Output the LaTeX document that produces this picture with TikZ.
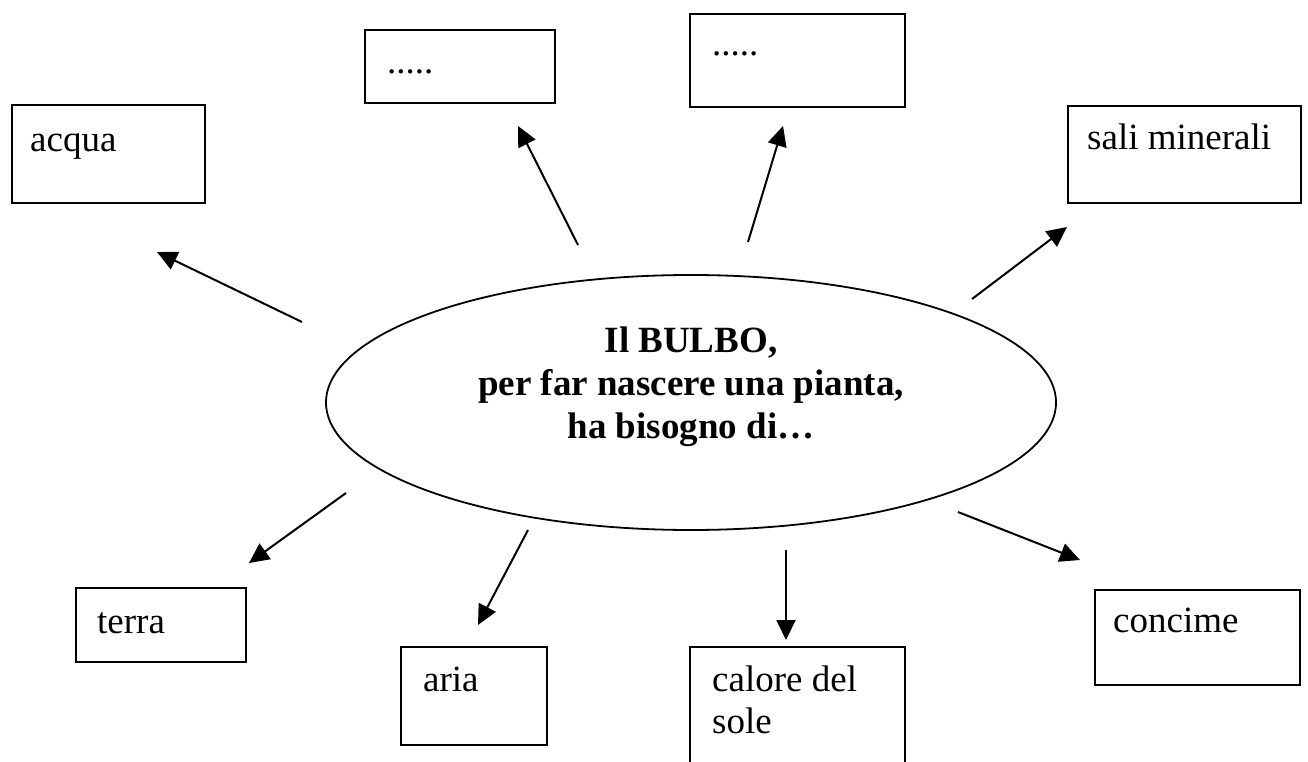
\documentclass[tikz,border=0pt]{standalone}
\usepackage{fontspec}
\setmainfont{Liberation Serif}
\usetikzlibrary{shapes.geometric,arrows.meta}
\tikzset{
  box/.style={draw=black, line width=2pt, rectangle, inner sep=0pt},
  lbl/.style={anchor=base west, inner sep=0pt, font=\fontsize{37}{43}\selectfont},
  arr/.style={draw=black, line width=2pt, -{Triangle[length=20pt,width=19pt]}},
  bulbo/.style={draw=black, line width=1.8pt, ellipse, inner sep=0pt}
}
\newcommand{\mybox}[5]{%
  \node[box, minimum width={#4-#2}, minimum height={#5-#3}] (#1) at ({(#2+#4)/2},{(#3+#5)/2}) {};}
\begin{document}
\begin{tikzpicture}[x=1pt,y=-1pt]
\useasboundingbox (0,0) rectangle (1308,762);
\fill[white] (0,0) rectangle (1308,762);
% central ellipse
\node[bulbo, minimum width=730pt, minimum height=255pt] (bulbo) at (691,402.5) {};
\node[inner sep=0pt, align=center, font=\bfseries\fontsize{37}{43}\selectfont] (bulbotxt) at (691,387)
  {Il BULBO,\\per far nascere una pianta,\\ha bisogno di…};
% boxes
\mybox{acqua}{12}{105}{205}{203}
\mybox{puntiA}{365}{30}{555}{103}
\mybox{puntiB}{690}{14}{905}{107}
\mybox{sali}{1068}{106}{1301}{203}
\mybox{terra}{76}{588}{246}{662}
\mybox{aria}{401}{647}{547}{745}
\mybox{calore}{690}{647}{905}{790}
\mybox{concime}{1095}{590}{1300}{685}
% labels
\node[lbl] (tacqua) at (30,152) {acqua};
\node[lbl] (tpuntiA) at (387,74) {.....};
\node[lbl] (tpuntiB) at (712,56) {.....};
\node[lbl] (tsali) at (1087,150) {sali minerali};
\node[lbl] (tterra) at (97,633) {terra};
\node[lbl] (taria) at (423,691) {aria};
\node[lbl] (tcalore) at (712,691) {calore del};
\node[lbl] (tsole) at (712,733) {sole};
\node[lbl] (tconcime) at (1113,632) {concime};
% connector end points
\coordinate (s1) at (302,322); \coordinate (e1) at (157,252);
\coordinate (s2) at (578,245); \coordinate (e2) at (518,126);
\coordinate (s3) at (748,242); \coordinate (e3) at (783,126);
\coordinate (s4) at (972,299); \coordinate (e4) at (1067,227);
\coordinate (s5) at (346,493); \coordinate (e5) at (249,563);
\coordinate (s6) at (528,530); \coordinate (e6) at (478,625);
\coordinate (s7) at (786,550); \coordinate (e7) at (786,640);
\coordinate (s8) at (958,512); \coordinate (e8) at (1080,560);
\draw[arr] (s1) -- (e1);
\draw[arr] (s2) -- (e2);
\draw[arr] (s3) -- (e3);
\draw[arr] (s4) -- (e4);
\draw[arr] (s5) -- (e5);
\draw[arr] (s6) -- (e6);
\draw[arr] (s7) -- (e7);
\draw[arr] (s8) -- (e8);
\end{tikzpicture}
\end{document}
